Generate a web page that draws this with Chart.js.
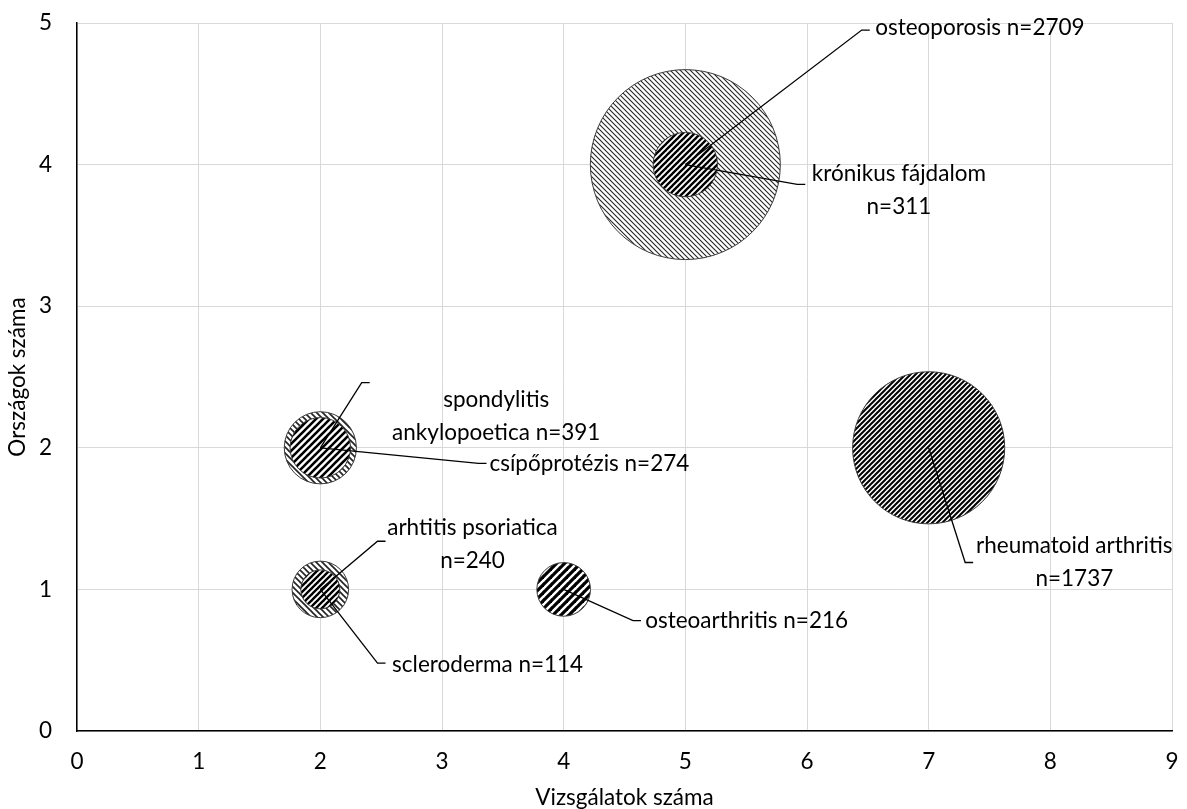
<!DOCTYPE html>
<html>
<head>
<meta charset="utf-8">
<title>Vizsgálatok és országok száma</title>
<script src="https://cdn.jsdelivr.net/npm/chart.js@4/dist/chart.umd.min.js"></script>
<style>
  html, body { margin: 0; padding: 0; background: #ffffff; }
  #c { display: block; }
</style>
</head>
<body>
<canvas id="c" width="1187" height="809"></canvas>
<script>
// Conditions, drawn largest first so the smaller bubbles sit on top
const conditions = ['osteoporosis', 'rheumatoid arthritis', 'spondylitis ankylopoetica', 'csípőprotézis',
                    'krónikus fájdalom', 'arhtitis psoriatica', 'osteoarthritis', 'scleroderma'];
const studyCounts   = [5, 7, 2, 2, 5, 2, 4, 2];          // Vizsgálatok száma
const countryCounts = [4, 2, 2, 2, 4, 1, 1, 1];          // Országok száma
const patientCounts = [2709, 1737, 391, 274, 311, 240, 216, 114]; // n

const labelTexts = [
  ['osteoporosis n=2709'],
  ['rheumatoid arthritis', 'n=1737'],
  ['spondylitis', 'ankylopoetica n=391'],
  ['csípőprotézis n=274'],
  ['krónikus fájdalom', 'n=311'],
  ['arhtitis psoriatica', 'n=240'],
  ['osteoarthritis n=216'],
  ['scleroderma n=114']
];

const xTickValues = [0, 1, 2, 3, 4, 5, 6, 7, 8, 9];
const yTickValues = [0, 1, 2, 3, 4, 5];

// Callout placement in axis units: leader elbow, text-block left edge and centre height
const calloutElbow = [[6.45, 4.95], [7.30, 1.19], [2.34, 2.46], [3.30, 1.89],
                      [5.92, 3.86], [2.47, 1.34], [4.57, 0.78], [2.47, 0.48]];
const calloutLeft  = [6.56, 7.39, 2.59, 3.39, 6.04, 2.55, 4.67, 2.59];
const calloutMidY  = [4.965, 1.19, 2.22, 1.89, 3.82, 1.32, 0.78, 0.47];

// Bubble area proportional to n
const RADIUS_PER_SQRT_N = 1.825;

const FONT = 'Lato, "Open Sans", "DejaVu Sans", sans-serif';
const FONT_SIZE = 22.5;

function hatch(dir, period, lineWidth, color) {
  const t = document.createElement('canvas');
  t.width = period; t.height = period;
  const g = t.getContext('2d');
  g.fillStyle = '#ffffff';
  g.fillRect(0, 0, period, period);
  g.strokeStyle = color;
  g.lineWidth = lineWidth;
  g.lineCap = 'square';
  for (const k of [-period, 0, period]) {
    g.beginPath();
    if (dir === '/') { g.moveTo(k, period); g.lineTo(k + period, 0); }
    else { g.moveTo(k, 0); g.lineTo(k + period, period); }
    g.stroke();
  }
  return g.createPattern(t, 'repeat');
}

const fills = [
  hatch('\\', 5, 1.1, '#222'),   // osteoporosis
  hatch('/', 5, 2.0, '#000'),    // rheumatoid arthritis
  hatch('\\', 6, 1.6, '#222'),   // spondylitis ankylopoetica
  hatch('/', 7, 2.6, '#000'),    // csípőprotézis
  hatch('/', 6, 2.4, '#000'),    // krónikus fájdalom
  hatch('\\', 6, 1.6, '#222'),   // arhtitis psoriatica
  hatch('/', 8, 3.2, '#000'),    // osteoarthritis
  hatch('/', 6, 2.4, '#000')     // scleroderma
];

const points = conditions.map((name, i) => ({
  x: studyCounts[i],
  y: countryCounts[i],
  r: RADIUS_PER_SQRT_N * Math.sqrt(patientCounts[i])
}));

const callouts = {
  id: 'callouts',
  afterDatasetsDraw(chart) {
    const { ctx, scales: { x, y } } = chart;
    const meta = chart.getDatasetMeta(0);
    ctx.save();
    ctx.strokeStyle = '#000';
    ctx.lineWidth = 1.3;
    ctx.fillStyle = '#000';
    ctx.font = FONT_SIZE + 'px ' + FONT;
    ctx.textAlign = 'center';
    ctx.textBaseline = 'middle';
    const lineGap = 33;
    meta.data.forEach((el, i) => {
      const ex = x.getPixelForValue(calloutElbow[i][0]);
      const ey = y.getPixelForValue(calloutElbow[i][1]);
      const left = x.getPixelForValue(calloutLeft[i]);
      const my = y.getPixelForValue(calloutMidY[i]);
      ctx.beginPath();
      ctx.moveTo(el.x, el.y);
      ctx.lineTo(ex, ey);
      ctx.lineTo(ex + 8, ey);
      ctx.stroke();
      const lines = labelTexts[i];
      const blockW = Math.max(...lines.map(s => ctx.measureText(s).width));
      const cx = left + blockW / 2;
      const top = my - (lines.length - 1) * lineGap / 2;
      lines.forEach((s, j) => ctx.fillText(s, cx, top + j * lineGap));
    });
    ctx.restore();
  }
};

new Chart(document.getElementById('c'), {
  type: 'bubble',
  data: {
    datasets: [{
      label: 'n',
      data: points,
      backgroundColor: ctx => fills[ctx.dataIndex],
      borderColor: '#3a3a3a',
      borderWidth: 1,
      hoverRadius: 0,
      hoverBorderWidth: 1
    }]
  },
  options: {
    responsive: false,
    devicePixelRatio: 1,
    animation: false,
    events: [],
    layout: { autoPadding: false, padding: { top: 23, right: 15, left: 0, bottom: 0 } },
    plugins: {
      legend: { display: false },
      tooltip: { enabled: false }
    },
    scales: {
      x: {
        type: 'linear',
        min: 0, max: 9,
        afterBuildTicks: s => { s.ticks = xTickValues.map(v => ({ value: v })); },
        afterFit: s => { s.height = 78; s.paddingLeft = 0; s.paddingRight = 0; },
        grid: { color: '#d9d9d9', lineWidth: 1, drawTicks: false },
        border: { color: '#000', width: 1.5 },
        ticks: { color: '#000', padding: 17, maxRotation: 0, font: { family: FONT, size: FONT_SIZE } },
        title: { display: true, text: 'Vizsgálatok száma', color: '#000',
                 font: { family: FONT, size: FONT_SIZE }, padding: { top: 0, bottom: -2 } }
      },
      y: {
        type: 'linear',
        min: 0, max: 5,
        afterBuildTicks: s => { s.ticks = yTickValues.map(v => ({ value: v })); },
        afterFit: s => { s.width = 77; s.paddingTop = 0; s.paddingBottom = 0; },
        grid: { color: '#d9d9d9', lineWidth: 1, drawTicks: false },
        border: { color: '#000', width: 1.5 },
        ticks: { color: '#000', padding: 25, font: { family: FONT, size: FONT_SIZE } },
        title: { display: true, text: 'Országok száma', color: '#000',
                 font: { family: FONT, size: FONT_SIZE }, padding: { top: 4, bottom: 0 } }
      }
    }
  },
  plugins: [callouts]
});
</script>
</body>
</html>
